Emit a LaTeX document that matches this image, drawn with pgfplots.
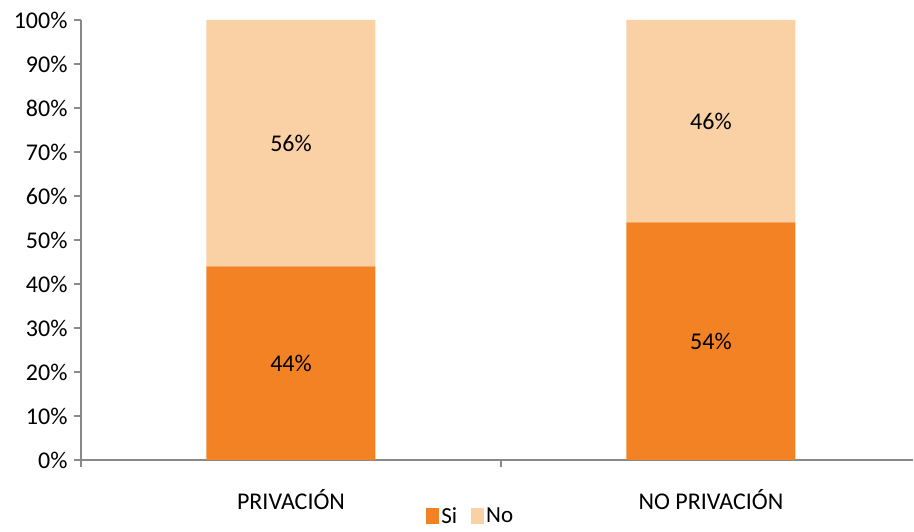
\documentclass[border=0pt]{standalone}
\usepackage{pgfplots}
\pgfplotsset{compat=1.18}
\usepackage{fontspec}
\setmainfont{Carlito}
\definecolor{siC}{HTML}{F38225}
\definecolor{noC}{HTML}{FAD0A5}
\definecolor{axC}{HTML}{898989}
\begin{document}
\begin{tikzpicture}[font=\fontsize{24}{29}\selectfont]
\begin{axis}[
  scale only axis,
  width=832pt, height=440pt,
  ybar stacked, bar width=169pt,
  xmin=-0.5, xmax=1.481, ymin=0, ymax=100,
  axis lines*=left,
  axis line style={draw=axC, line width=2.5pt},
  every tick/.style={draw=axC, line width=2.5pt},
  tick align=outside, major tick length=7pt,
  xtick={-0.5,0.5,1.5}, xticklabels={},
  extra x ticks={0,1},
  extra x tick labels={PRIVACIÓN, NO PRIVACIÓN},
  extra x tick style={major tick length=0pt, tick style={draw=none}, tick label style={yshift=-26pt}},
  ytick={0,10,...,100},
  yticklabel={\pgfmathprintnumber[assume math mode=true]{\tick}\%},
  y tick label style={xshift=-3pt},
  legend style={draw=none, at={(0.4685,-0.127)}, anchor=center, legend columns=2,
    font=\fontsize{23}{27}\selectfont,
    /tikz/every even column/.append style={column sep=12pt}, inner sep=0pt},
  legend image code/.code={\fill[#1] (0pt,-8pt) rectangle (13pt,8pt);},
]
\addplot[fill=siC, draw=none] coordinates {(0,44) (1,54)};
\addplot[fill=noC, draw=none] coordinates {(0,56) (1,46)};
\legend{Si, No}
\coordinate (A) at (axis cs:0,22);
\coordinate (B) at (axis cs:0,72);
\coordinate (C) at (axis cs:1,27);
\coordinate (D) at (axis cs:1,77);
\coordinate (O) at (rel axis cs:0,0);
\end{axis}
\node at (A) {44\%};
\node at (B) {56\%};
\node at (C) {54\%};
\node at (D) {46\%};
\pgfresetboundingbox
\path[use as bounding box] (O) ++(-81pt,-71pt) rectangle ++(914pt,531pt);
\end{tikzpicture}
\end{document}
